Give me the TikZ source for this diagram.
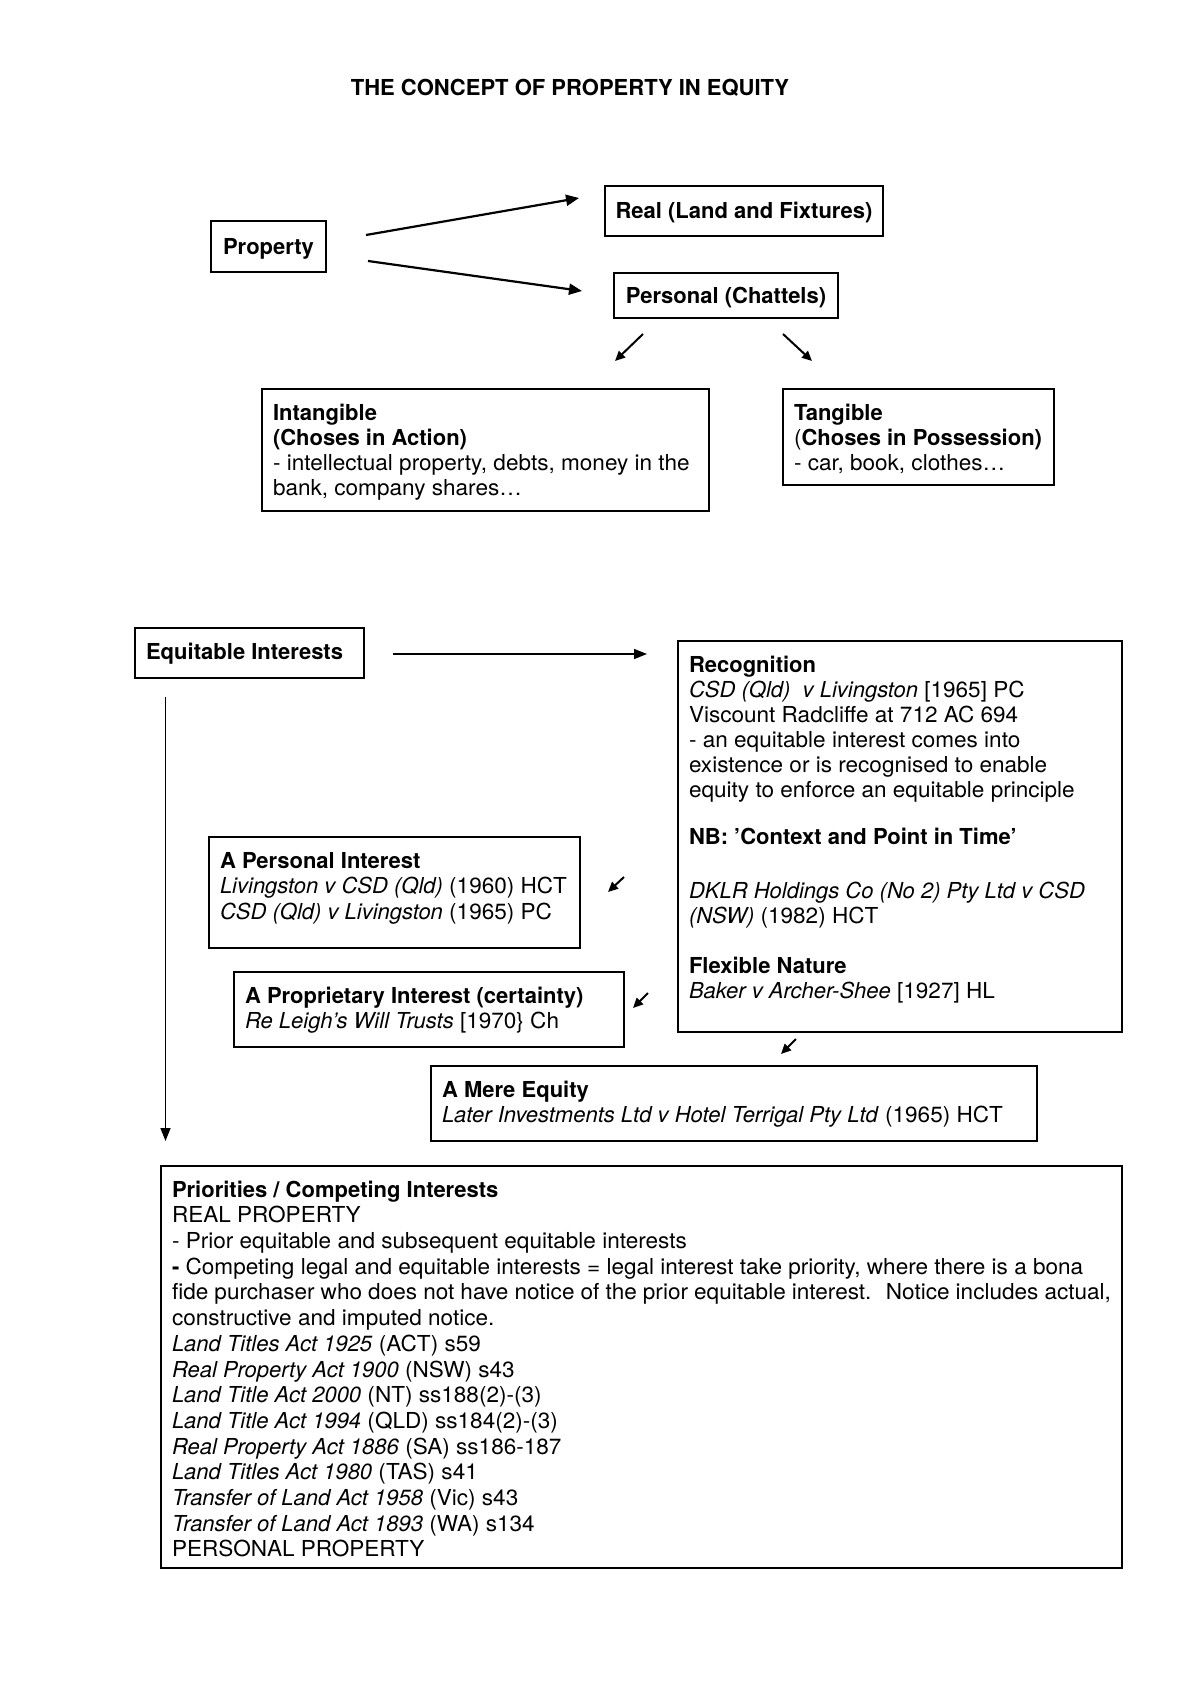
\documentclass[tikz,border=0pt]{standalone}
\usepackage{fontspec}
\setmainfont{TeX Gyre Heros}[UprightFeatures={FakeStretch=1.025}]
\usepackage{tikz}
\usetikzlibrary{arrows.meta, positioning}
\tikzset{
  % Box styles
  plainbox/.style={rectangle, draw=black, line width=1pt, inner sep=0pt, text height=7.9pt, text depth=0pt, font=\fontsize{11pt}{12.5pt}\selectfont\bfseries},
  textbox/.style={rectangle, draw=black, line width=1pt, anchor=north west, inner xsep=5.5pt, inner ysep=6.8pt},
  % Arrow styles
  arrow/.style={-{Triangle[length=6.5pt,width=5.5pt]}, line width=1.1pt},
  thinarrow/.style={-{Triangle[length=6.5pt,width=5pt]}, line width=0.75pt},
  smallarrow/.style={-{Triangle[length=5pt,width=4.5pt]}, line width=1pt}
}
\newcommand{\boxtext}[3]{\parbox[t][#2][t]{#1}{\strut#3}}

\begin{document}
\begin{tikzpicture}[x=0.5pt, y=-0.5pt, font=\fontsize{11pt}{12.5pt}\selectfont]
  \useasboundingbox (0,0) rectangle (1200,1697);

  % Title
  \node[font=\fontsize{11pt}{12.5pt}\selectfont\bfseries] (title) at (570,88) {THE CONCEPT OF PROPERTY IN EQUITY};

  % Property and its two kinds
  \node[plainbox, minimum width=57.5pt, minimum height=25.5pt] (prop) at (268.5,246.5) {Property};
  \node[plainbox, minimum width=139pt, minimum height=25pt] (real) at (744,211) {Real (Land and Fixtures)};
  \node[plainbox, minimum width=112pt, minimum height=22.5pt] (pers) at (726,295.5) {Personal (Chattels)};

  % Choses
  \node[textbox] (intang) at (261,388) {\boxtext{212.5pt}{47.4pt}{\textbf{Intangible}\\
    \textbf{(Choses in Action)}\\
    - intellectual property, debts, money in the\\
    bank, company shares…}};
  \node[textbox] (tang) at (782,388) {\boxtext{124.5pt}{34.4pt}{\textbf{Tangible}\\
    (\textbf{Choses in Possession)}\\
    - car, book, clothes…}};

  % Equitable interests
  \node[textbox] (eqint) at (134,627) {\boxtext{103.5pt}{11.4pt}{\textbf{Equitable Interests}}};
  \node[textbox] (recog) at (677,640) {\boxtext{211pt}{181.9pt}{\textbf{Recognition}\\
    \textit{CSD (Qld)~ v Livingston} [1965] PC\\
    Viscount Radcliffe at 712 AC 694\\
    - an equitable interest comes into\\
    existence or is recognised to enable\\
    equity to enforce an equitable principle\\[11.3pt]
    \textbf{NB: ’Context and Point in Time’}\\[14.3pt]
    \textit{DKLR Holdings Co (No 2) Pty Ltd v CSD}\\
    \textit{(NSW)} (1982) HCT\\[12.4pt]
    \textbf{Flexible Nature}\\
    \textit{Baker v Archer-Shee} [1927] HL}};
  \node[textbox] (persint) at (208,836) {\boxtext{174.5pt}{41.9pt}{\fontsize{11pt}{12.9pt}\selectfont
    \textbf{A Personal Interest}\\
    \textit{Livingston v CSD (Qld)} (1960) HCT\\
    \textit{CSD (Qld) v Livingston} (1965) PC}};
  \node[textbox] (propint) at (233,971) {\boxtext{184pt}{23.9pt}{\textbf{A Proprietary Interest (certainty)}\\
    \textit{Re Leigh’s Will Trusts} [1970\} Ch}};
  \node[textbox] (mere) at (430,1065) {\boxtext{292pt}{23.9pt}{\textbf{A Mere Equity}\\
    \textit{Later Investments Ltd v Hotel Terrigal Pty Ltd} (1965) HCT}};

  % Priorities
  \node[textbox] (prior) at (160,1165) {\boxtext{469.5pt}{187.4pt}{\fontsize{11pt}{12.85pt}\selectfont
    \textbf{Priorities / Competing Interests}\\
    REAL PROPERTY\\
    - Prior equitable and subsequent equitable interests\\
    \textbf{-} Competing legal and equitable interests = legal interest take priority, where there is a bona\\
    fide purchaser who does not have notice of the prior equitable interest.~ Notice includes actual,\\
    constructive and imputed notice.\\
    \textit{Land Titles Act 1925} (ACT) s59\\
    \textit{Real Property Act 1900} (NSW) s43\\
    \textit{Land Title Act 2000} (NT) ss188(2)-(3)\\
    \textit{Land Title Act 1994} (QLD) ss184(2)-(3)\\
    \textit{Real Property Act 1886} (SA) ss186-187\\
    \textit{Land Titles Act 1980} (TAS) s41\\
    \textit{Transfer of Land Act 1958} (Vic) s43\\
    \textit{Transfer of Land Act 1893} (WA) s134\\
    PERSONAL PROPERTY}};

  % Arrow ends
  \coordinate (propR) at (366,235);
  \coordinate (realL) at (579,198);
  \coordinate (propP) at (368,261);
  \coordinate (persL) at (582,291);
  \coordinate (persA) at (643,334);
  \coordinate (intangT) at (615,361);
  \coordinate (persB) at (783,334);
  \coordinate (tangT) at (812,361);
  \coordinate (eqR) at (393,654);
  \coordinate (recogL) at (647,654);
  \coordinate (eqB) at (165.5,697);
  \coordinate (priorT) at (165.5,1141);
  \coordinate (aPers1) at (624,877);
  \coordinate (aPers2) at (608,892);
  \coordinate (aProp1) at (648,993);
  \coordinate (aProp2) at (633,1008);
  \coordinate (aMere1) at (796,1039);
  \coordinate (aMere2) at (781,1054);

  % Arrows
  \draw[arrow] (propR) -- (realL);
  \draw[arrow] (propP) -- (persL);
  \draw[smallarrow] (persA) -- (intangT);
  \draw[smallarrow] (persB) -- (tangT);
  \draw[thinarrow] (eqR) -- (recogL);
  \draw[thinarrow] (eqB) -- (priorT);
  \draw[smallarrow] (aPers1) -- (aPers2);
  \draw[smallarrow] (aProp1) -- (aProp2);
  \draw[smallarrow] (aMere1) -- (aMere2);
\end{tikzpicture}
\end{document}
